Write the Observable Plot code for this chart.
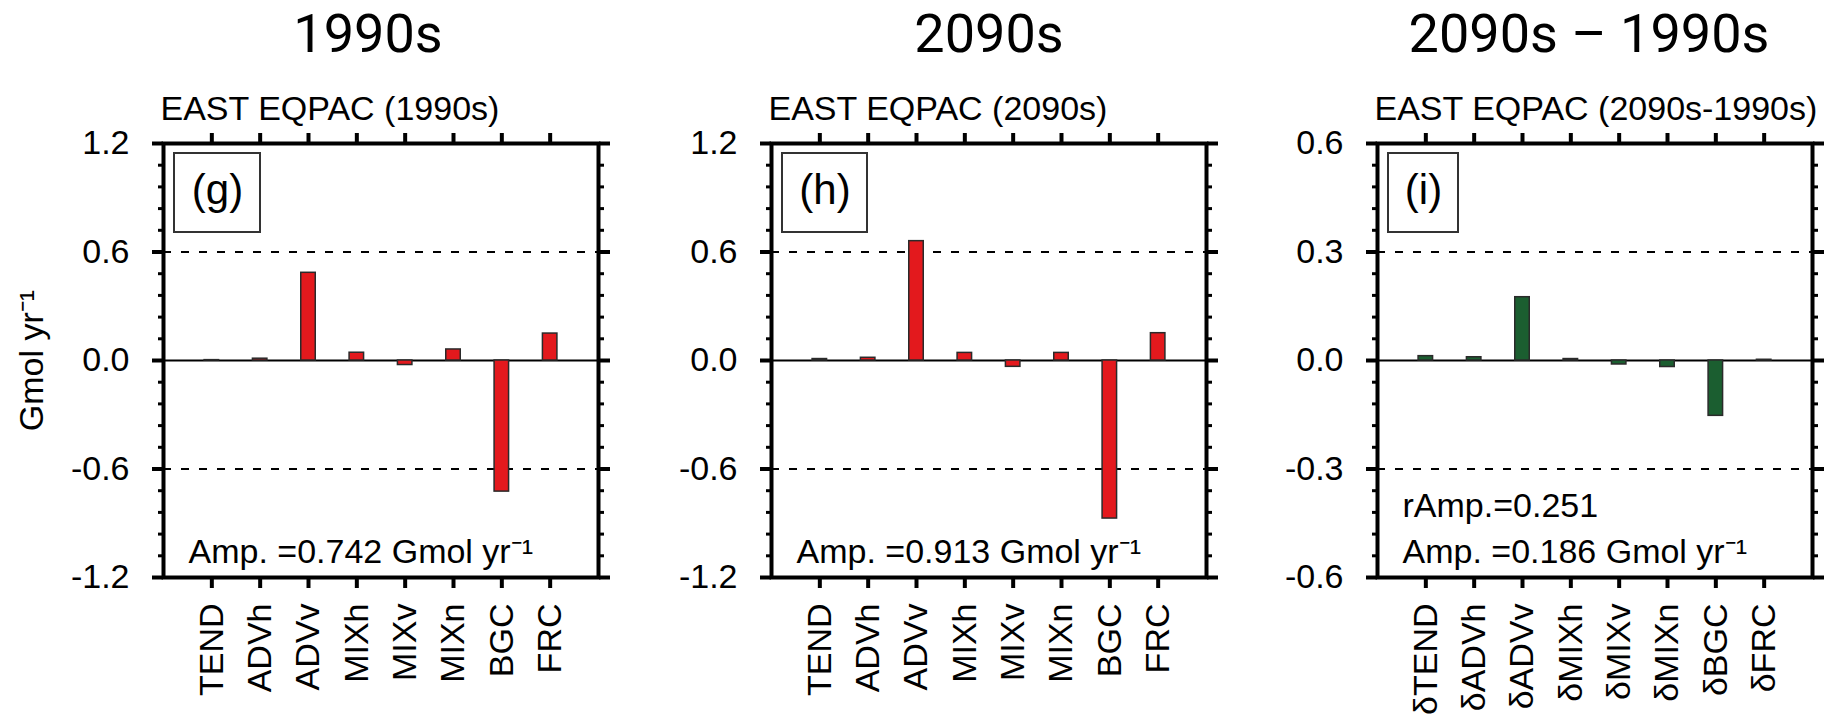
<!DOCTYPE html>
<html><head><meta charset="utf-8">
<script src="https://cdn.jsdelivr.net/npm/d3@7"></script>
<script src="https://cdn.jsdelivr.net/npm/@observablehq/plot@0.6"></script>
<style>
body{margin:0;background:#fff;}
#root{position:relative;width:1841px;height:716px;overflow:hidden;background:#fff;}
.title{position:absolute;top:2px;font-family:Roboto,'Open Sans',sans-serif;font-size:54px;line-height:normal;white-space:nowrap;transform:translateX(-50%);color:#000;}
.panel{position:absolute;top:64px;}
</style></head><body><div id="root"></div>
<script>
// ---- data ----
const categories = ["TEND","ADVh","ADVv","MIXh","MIXv","MIXn","BGC","FRC"];
const categoriesDiff = ["δTEND","δADVh","δADVv","δMIXh","δMIXv","δMIXn","δBGC","δFRC"];
const values1990s = [0.002, 0.01, 0.485, 0.043, -0.025, 0.061, -0.725, 0.149];
const values2090s = [0.008, 0.015, 0.66, 0.042, -0.035, 0.042, -0.874, 0.151];
const valuesDiff = [0.012, 0.009, 0.175, 0.004, -0.011, -0.018, -0.153, 0.002];
const yTicksAbs = [-1.2, -0.6, 0, 0.6, 1.2];
const yTicksDiff = [-0.6, -0.3, 0, 0.3, 0.6];
const titles = ["1990s", "2090s", "2090s – 1990s"];
const subtitles = ["EAST EQPAC (1990s)", "EAST EQPAC (2090s)", "EAST EQPAC (2090s-1990s)"];
const tags = ["(g)", "(h)", "(i)"];
const notes = ["Amp. =0.742 Gmol yr⁻¹", "Amp. =0.913 Gmol yr⁻¹", "rAmp.=0.251\nAmp. =0.186 Gmol yr⁻¹"];
const yLabel = "Gmol yr⁻¹";

const RED = "#e3191d", GREEN = "#1b5e30";
const root = document.getElementById("root");

const panels = [
  {cats: categories, vals: values1990s, ticks: yTicksAbs, minor: 0.12, color: RED, left: 0, width: 620, ml: 163, mr: 22, boxW: 86, titleX: 368, showLabel: true},
  {cats: categories, vals: values2090s, ticks: yTicksAbs, minor: 0.12, color: RED, left: 620, width: 610, ml: 151, mr: 24, boxW: 85, titleX: 989, showLabel: false},
  {cats: categoriesDiff, vals: valuesDiff, ticks: yTicksDiff, minor: 0.06, color: GREEN, left: 1230, width: 611, ml: 147, mr: 29, boxW: 70, titleX: 1589, showLabel: false}
];

function tagBox(w) {
  return (index, scales, values, dimensions) => {
    const g = d3.create("svg:g");
    g.append("rect")
      .attr("x", dimensions.marginLeft + 11).attr("y", dimensions.marginTop + 10)
      .attr("width", w).attr("height", 79)
      .attr("fill", "white").attr("stroke", "#333").attr("stroke-width", 2);
    return g.node();
  };
}

panels.forEach((p, i) => {
  const data = p.cats.map((c, j) => ({cat: c, val: p.vals[j]}));
  const ymax = p.ticks[p.ticks.length - 1];
  const minorTicks = d3.range(-ymax, ymax + p.minor / 2, p.minor);
  const tick = {tickSize: 11, strokeWidth: 4, label: null};
  const minorTick = {tickSize: 5, strokeWidth: 3, label: null, tickFormat: () => ""};
  const plot = Plot.plot({
    width: p.width, height: 652,
    marginTop: 79, marginBottom: 139, marginLeft: p.ml, marginRight: p.mr,
    style: {fontFamily: "'Liberation Sans', Arial, sans-serif", fontSize: "34px", color: "black", background: "transparent", overflow: "visible"},
    x: {domain: p.cats, paddingInner: 0.7, paddingOuter: 0.85, round: false, axis: null, label: null},
    y: {domain: [-ymax, ymax], axis: null, label: null},
    marks: [
      Plot.ruleY([p.ticks[1], p.ticks[3]], {stroke: "black", strokeWidth: 2, strokeDasharray: "8,10"}),
      Plot.ruleY([0], {stroke: "black", strokeWidth: 2}),
      Plot.barY(data, {x: "cat", y: "val", fill: p.color, stroke: "#2a2a2a", strokeWidth: 1.5}),
      Plot.axisY(minorTicks, {...minorTick, anchor: "left"}),
      Plot.axisY(minorTicks, {...minorTick, anchor: "right"}),
      Plot.axisY(p.ticks, {...tick, anchor: "left", tickPadding: 23, tickFormat: d => d.toFixed(1)}),
      Plot.axisY(p.ticks, {...tick, anchor: "right", tickFormat: () => ""}),
      Plot.axisX({...tick, anchor: "bottom", tickRotate: -90, tickPadding: 15}),
      Plot.axisX({...tick, anchor: "top", tickFormat: () => ""}),
      Plot.frame({stroke: "black", strokeWidth: 4}),
      tagBox(p.boxW),
      Plot.text([tags[i]], {text: d => d, frameAnchor: "top-left", textAnchor: "middle", lineAnchor: "bottom", dx: 11 + p.boxW / 2, dy: 60, fontSize: 42}),
      Plot.text([subtitles[i]], {text: d => d, frameAnchor: "top-left", textAnchor: "start", lineAnchor: "bottom", dx: -3, dy: -23.7}),
      Plot.text([notes[i]], {text: d => d, frameAnchor: "bottom-left", textAnchor: "start", lineAnchor: "bottom", dx: 25, dy: -14.3, lineHeight: 1.37}),
      p.showLabel ? Plot.text([yLabel], {text: d => d, frameAnchor: "left", textAnchor: "middle", lineAnchor: "bottom", rotate: -90, dx: -120.3}) : null
    ]
  });
  plot.classList.add("panel");
  plot.style.left = p.left + "px";
  root.appendChild(plot);

  const t = document.createElement("div");
  t.className = "title";
  t.style.left = p.titleX + "px";
  t.textContent = titles[i];
  root.appendChild(t);
});
</script>
</body></html>
